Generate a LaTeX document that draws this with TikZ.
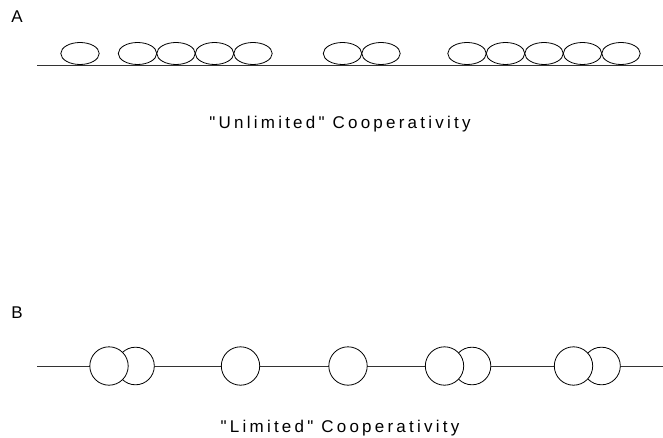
\documentclass[tikz,border=0pt]{standalone}
\usepackage{fontspec}
\setmainfont{Liberation Sans}
\newfontfamily\spaced[LetterSpace=19]{Liberation Sans}
\begin{document}
\begin{tikzpicture}[x=1pt,y=-1pt,
  bead/.style={draw=black,line width=0.8pt,fill=white},
  axis/.style={draw=black!80,line width=0.6pt},
  lab/.style={font=\fontsize{17}{20}\selectfont,inner sep=0pt},
  captext/.style={font=\fontsize{17}{20}\selectfont\spaced,inner sep=0pt}]
\useasboundingbox (0,0) rectangle (663,438);
% Panel A
\node[lab] (la) at (17,17) {A};
\coordinate (a0) at (37,65);
\coordinate (a1) at (663,65);
\draw[axis] (a0) -- (a1);
\foreach \cx in {80,137.5,176,214.5,253,342.5,381,467,505.5,544,582.5,621}
  \draw[bead] (\cx,53.5) ellipse [x radius=19.2, y radius=11];
\node[captext] (ca) at (340,124) {"Unlimited" Cooperativity};
% Panel B
\node[lab] (lb) at (17,313) {B};
\coordinate (b0) at (37,366);
\coordinate (b1) at (663,366);
\draw[axis] (b0) -- (b1);
\foreach \cx in {135.5,472,601.5}
  \draw[bead] (\cx,366) circle [radius=18.8];
\foreach \cx in {109,240.5,348,444.5,573.5}
  \draw[bead] (\cx,366) circle [radius=19.2];
\node[captext] (cb) at (340,428) {"Limited" Cooperativity};
\end{tikzpicture}
\end{document}
